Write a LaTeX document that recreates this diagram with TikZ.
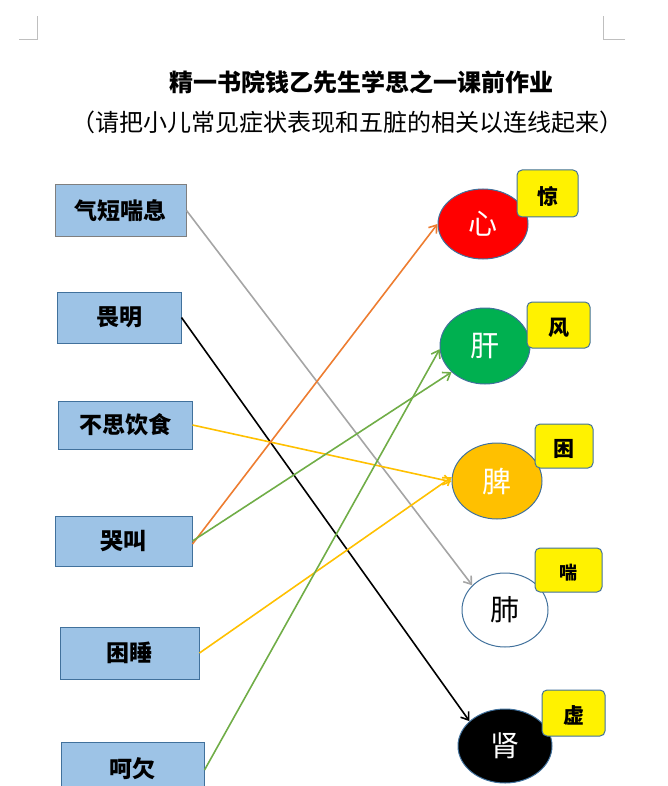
\documentclass[tikz,border=0pt]{standalone}
\usepackage{fontspec}
\setmainfont{Noto Sans CJK SC}
\usetikzlibrary{shapes.geometric,arrows.meta}
\definecolor{boxfill}{HTML}{9DC3E6}
\definecolor{boxline}{HTML}{41719C}
\definecolor{cred}{HTML}{FF0000}
\definecolor{cgreen}{HTML}{00B050}
\definecolor{corange}{HTML}{FFC000}
\definecolor{lorange}{HTML}{ED7D31}
\definecolor{lgreen}{HTML}{70AD47}
\definecolor{lgray}{HTML}{A5A5A5}
\definecolor{markgray}{HTML}{BFBFBF}
\definecolor{b1line}{HTML}{7F7F7F}
\newcommand{\lowered}[1]{\raisebox{-3pt}[\height][\depth]{#1}}
\tikzset{
  symbox/.style={draw=boxline, fill=boxfill, line width=1pt, minimum height=51pt, inner sep=0pt, font=\fontsize{23}{23}\selectfont\bfseries},
  organ/.style={ellipse, draw=boxline, line width=1pt, inner sep=0pt, font=\fontsize{29}{29}\selectfont},
  tag/.style={draw=boxline, fill=yellow, rounded corners=5pt, line width=1pt, inner sep=0pt, font=\fontsize{21}{21}\selectfont\bfseries},
  link/.style={line width=1.6pt, -{Straight Barb[length=7pt,width=10pt]}}
}
\begin{document}
\begin{tikzpicture}[x=1pt,y=-1pt]
\useasboundingbox (0,0) rectangle (668,786);
% corner marks
\draw[markgray, line width=0.8pt] (19,39) -- (37,39) -- (37,16);
\draw[markgray, line width=0.8pt] (625,39) -- (603,39) -- (603,16);
% title
\node[font=\fontsize{24}{24}\selectfont\bfseries] (title) at (361,82) {精一书院钱乙先生学思之一课前作业};
\node[font=\fontsize{24}{24}\selectfont] (sub) at (347,122) {（请把小儿常见症状表现和五脏的相关以连线起来）};
% symptom boxes
\node[symbox, draw=b1line, minimum width=131pt] (b1) at (120.5,210.5) {气短喘息};
\node[symbox, minimum width=124pt] (b2) at (119,317.5) {畏明};
\node[symbox, minimum width=134pt, minimum height=48pt] (b3) at (125,425) {不思饮食};
\node[symbox, minimum width=137pt, minimum height=50pt] (b4) at (123.5,541) {哭叫};
\node[symbox, minimum width=139pt, minimum height=52pt] (b5) at (129.5,653) {困睡};
\node[symbox, minimum width=143pt, minimum height=54pt] (b6) at (132.5,769) {呵欠};
% organs
\node[organ, fill=cred, text=white, minimum width=90pt, minimum height=70pt] (xin) at (483,224) {心};
\node[organ, fill=cgreen, text=white, minimum width=90pt, minimum height=76pt] (gan) at (485,346) {肝};
\node[organ, fill=corange, text=white, minimum width=90pt, minimum height=76pt] (pi) at (497,481) {脾};
\node[organ, fill=white, text=black, minimum width=86pt, minimum height=74pt] (fei) at (505,610) {肺};
\node[organ, fill=black, text=white, minimum width=94pt, minimum height=74pt] (shen) at (505,746) {肾};
% tags
\node[tag, minimum width=61pt, minimum height=47pt] (t1) at (547.5,193.5) {\lowered{惊}};
\node[tag, minimum width=63pt, minimum height=46pt] (t2) at (558.5,325) {\lowered{风}};
\node[tag, minimum width=58pt, minimum height=44pt] (t3) at (564,446) {\lowered{困}};
\node[tag, minimum width=67pt, minimum height=44pt, font=\fontsize{18}{18}\selectfont\bfseries] (t4) at (568.5,570) {\lowered{喘}};
\node[tag, minimum width=63pt, minimum height=46pt] (t5) at (573.5,713) {\lowered{虚}};
% links
\draw[link, lgray] (b1.east) -- (fei.143);
\draw[link, black] (b2.east) -- (shen.145);
\draw[link, corange] (b3.east) -- (pi.181);
\draw[link, lorange] ([yshift=-3pt]b4.east) -- (xin.west);
\draw[link, lgreen] (b4.east) -- (gan.218);
\draw[link, corange] (b5.east) -- (pi.175);
\draw[link, lgreen] ([yshift=-1pt]b6.east) -- (gan.184);
\end{tikzpicture}
\end{document}
